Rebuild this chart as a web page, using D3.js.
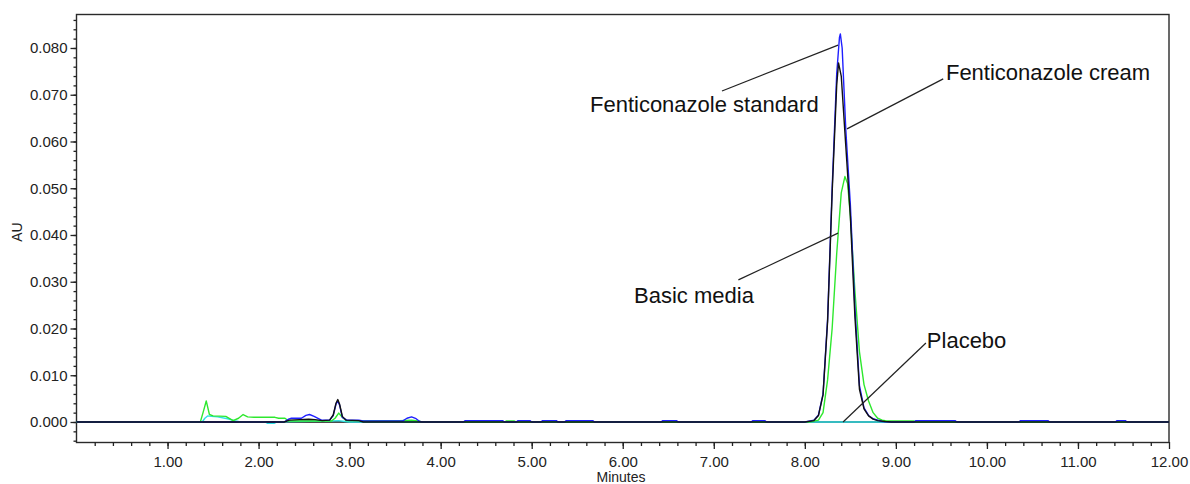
<!DOCTYPE html>
<html>
<head>
<meta charset="utf-8">
<script src="https://cdn.jsdelivr.net/npm/d3@7"></script>
<style>
  html, body { margin: 0; padding: 0; background: #fff; }
  svg { display: block; font-family: "Liberation Sans", Arial, sans-serif; }
</style>
</head>
<body>
<svg id="chart" width="1190" height="484"></svg>
<script>
// ---- Data (minutes, AU) ----
const xMajorTicks = [1, 2, 3, 4, 5, 6, 7, 8, 9, 10, 11, 12];
const yMajorTicks = [0, 0.01, 0.02, 0.03, 0.04, 0.05, 0.06, 0.07, 0.08];

// Placebo (cyan)
const placebo = [
  [0,0],[1.38,0],[1.41,0.0008],[1.44,0.0013],[1.48,0.0012],[1.55,0.0011],[1.66,0.0007],
  [1.75,0.0002],[1.80,0],[2.07,0],[2.10,-0.0003],[2.17,-0.0003],[2.20,0],[2.35,0.0001],
  [2.80,0.0002],[2.88,0.0003],[2.95,0.0001],[3.00,0],[12,0]
];

// Basic media (green)
const basicMedia = [
  [0,0],[1.36,0],[1.39,0.0020],[1.425,0.0045],[1.46,0.0016],[1.50,0.0013],[1.64,0.0012],
  [1.72,0.0003],[1.78,0.0008],[1.83,0.0016],[1.88,0.0011],[1.95,0.0010],[2.18,0.0010],
  [2.22,0.0008],[2.29,0.0008],[2.33,0.0002],[2.80,0.0002],[2.84,0.0008],[2.88,0.0019],
  [2.92,0.0010],[2.96,0.0003],[3.55,0.0003],[3.68,0.0004],[3.75,0.0002],[3.80,0],
  [4.70,0],[4.72,0.0002],[4.81,0.0002],[4.83,0],[5.10,0],[5.12,0.0001],[5.27,0.0001],[5.29,0],
  [8.05,0],[8.15,0.0004],[8.20,0.0020],[8.25,0.0090],[8.30,0.0200],[8.35,0.0360],[8.40,0.0490],
  [8.44,0.0525],[8.47,0.0510],[8.50,0.0440],[8.55,0.0280],[8.60,0.0150],[8.65,0.0080],
  [8.70,0.0045],[8.75,0.0020],[8.80,0.0008],[8.85,0.0004],[8.90,0.0002],[9.20,0.0002],[9.22,0],[12,0]
];

// Fenticonazole standard (blue)
const standard = [
  [0,0],[2.28,0],[2.33,0.0006],[2.36,0.0008],[2.47,0.0008],[2.52,0.0014],[2.56,0.0016],
  [2.61,0.0012],[2.69,0.0004],[2.78,0.0004],[2.82,0.0014],[2.85,0.0038],[2.87,0.0045],
  [2.89,0.0036],[2.92,0.0010],[2.97,0.0004],[3.10,0.0004],[3.15,0.0002],[3.58,0.0002],
  [3.63,0.0008],[3.68,0.0011],[3.73,0.0007],[3.77,0.0001],[3.80,0],
  [4.25,0],[4.27,0.0003],[4.68,0.0003],[4.70,0],[4.83,0],[4.85,0.0003],[4.98,0.0003],[5.00,0],
  [5.10,0],[5.12,0.0003],[5.27,0.0003],[5.29,0],[5.36,0],[5.38,0.0003],[5.67,0.0003],[5.69,0],
  [6.42,0],[6.44,0.0003],[6.59,0.0003],[6.61,0],[7.41,0],[7.43,0.0003],[7.56,0.0003],[7.58,0],
  [8.00,0],[8.10,0.0004],[8.15,0.0015],[8.20,0.0060],[8.25,0.0220],[8.30,0.0500],[8.35,0.0745],
  [8.38,0.0822],[8.39,0.0830],[8.41,0.0800],[8.45,0.0625],[8.50,0.0465],[8.55,0.0245],
  [8.60,0.0078],[8.65,0.0030],[8.70,0.0014],[8.75,0.0007],[8.80,0.0004],[8.85,0.0001],[8.95,0],
  [9.20,0],[9.22,0.0003],[9.65,0.0003],[9.67,0],[10.35,0],[10.37,0.0003],[10.67,0.0003],[10.69,0],
  [11.41,0],[11.43,0.0003],[11.52,0.0003],[11.54,0],[12,0]
];

// Fenticonazole cream (black)
const cream = [
  [0,0],[2.28,0],[2.34,0.0004],[2.45,0.0005],[2.55,0.0006],[2.62,0.0005],[2.70,0.0003],
  [2.78,0.0004],[2.82,0.0015],[2.85,0.0040],[2.87,0.0048],[2.89,0.0038],[2.92,0.0012],
  [2.96,0.0004],[3.10,0.0003],[3.15,0],
  [8.00,0],[8.10,0.0003],[8.15,0.0014],[8.20,0.0058],[8.25,0.0215],[8.30,0.0490],[8.35,0.0720],
  [8.37,0.0768],[8.40,0.0740],[8.45,0.0590],[8.50,0.0440],[8.55,0.0225],[8.60,0.0070],
  [8.65,0.0028],[8.70,0.0013],[8.75,0.0006],[8.80,0.0003],[8.88,0.0001],[8.95,0],[12,0]
];

const seriesNames = ["Placebo", "Basic media", "Fenticonazole standard", "Fenticonazole cream"];
const seriesData  = [placebo, basicMedia, standard, cream];
const seriesColors = ["#2fe0e6", "#2ee82e", "#1f1fff", "#111111"];

// annotation labels: leader from "at" (on the trace) to "label" end; text anchored at (tx, ty)
const annotations = [
  { text: "Fenticonazole standard", at: [8.365, 0.0806], label: [7.09, 0.0708], tx: 5.64, ty: 0.0663 },
  { text: "Fenticonazole cream",    at: [8.463, 0.0627], label: [9.52, 0.0734], tx: 9.55, ty: 0.0732 },
  { text: "Basic media",            at: [8.365, 0.0404], label: [7.27, 0.0304], tx: 6.124, ty: 0.0255 },
  { text: "Placebo",                at: [8.42, 0.0000],  label: [9.33, 0.0169], tx: 9.34, ty: 0.0158 }
];

// ---- Layout ----
const svg = d3.select("#chart");
const L = 76.5, R = 1169, T = 14, B = 442;
const x = d3.scaleLinear().domain([0, 12]).range([L, R]);
const y = d3.scaleLinear().domain([-0.00428, 0.08727]).range([B, T]);

// frame
svg.append("rect")
  .attr("x", L).attr("y", T + 0.5).attr("width", R - L).attr("height", B - T)
  .attr("fill", "none").attr("stroke", "#2a2a2a").attr("stroke-width", 1.4);

// y axis minor ticks
const yMinor = d3.range(-4, 87, 2).map(v => v / 1000);
svg.append("g").attr("transform", `translate(${L},0)`)
  .call(d3.axisLeft(y).tickValues(yMinor).tickSize(3).tickFormat(""))
  .call(g => g.select(".domain").remove())
  .call(g => g.selectAll("line").attr("stroke", "#222").attr("stroke-width", 1.3));

// y axis major ticks
svg.append("g").attr("transform", `translate(${L},0)`)
  .call(d3.axisLeft(y).tickValues(yMajorTicks).tickSize(6).tickPadding(3).tickFormat(d3.format(".3f")))
  .call(g => g.select(".domain").remove())
  .call(g => g.selectAll("line").attr("stroke", "#222").attr("stroke-width", 1.3))
  .call(g => g.selectAll("text").attr("font-size", 15).attr("fill", "#222")
    .attr("font-family", '"Liberation Sans", Arial, sans-serif'));

// x axis minor ticks
const xMinor = d3.range(1, 60).map(v => v / 5);
svg.append("g").attr("transform", `translate(0,${B})`)
  .call(d3.axisBottom(x).tickValues(xMinor).tickSize(4).tickFormat(""))
  .call(g => g.select(".domain").remove())
  .call(g => g.selectAll("line").attr("stroke", "#222").attr("stroke-width", 1.3));

// x axis major ticks
svg.append("g").attr("transform", `translate(0,${B})`)
  .call(d3.axisBottom(x).tickValues(xMajorTicks).tickSize(7).tickPadding(7).tickFormat(d3.format(".2f")))
  .call(g => g.select(".domain").remove())
  .call(g => g.selectAll("line").attr("stroke", "#222").attr("stroke-width", 1.3))
  .call(g => g.selectAll("text").attr("font-size", 15).attr("fill", "#222")
    .attr("font-family", '"Liberation Sans", Arial, sans-serif'));

// axis titles
svg.append("text")
  .attr("transform", `translate(22,232) rotate(-90)`)
  .attr("text-anchor", "middle").attr("font-size", 14).attr("fill", "#222")
  .text("AU");
svg.append("text")
  .attr("x", 621).attr("y", 482)
  .attr("text-anchor", "middle").attr("font-size", 14).attr("fill", "#222")
  .text("Minutes");

// zero reference line
svg.append("line")
  .attr("x1", x(0)).attr("x2", x(12)).attr("y1", y(0)).attr("y2", y(0))
  .attr("stroke", "#111").attr("stroke-width", 1.3);

// traces
const line = d3.line().x(d => x(d[0])).y(d => y(d[1]));
svg.append("clipPath").attr("id", "plotclip")
  .append("rect").attr("x", L).attr("y", T).attr("width", R - L).attr("height", B - T);
svg.append("g").attr("clip-path", "url(#plotclip)")
  .selectAll("path").data(seriesData).join("path")
  .attr("d", line)
  .attr("fill", "none")
  .attr("stroke", (d, i) => seriesColors[i])
  .attr("stroke-width", 1.4)
  .attr("stroke-linejoin", "round");

// annotations
const ann = svg.append("g");
annotations.forEach(a => {
  ann.append("line")
    .attr("x1", x(a.label[0])).attr("y1", y(a.label[1]))
    .attr("x2", x(a.at[0])).attr("y2", y(a.at[1]))
    .attr("stroke", "#222").attr("stroke-width", 1.2);
  ann.append("text")
    .attr("x", x(a.tx)).attr("y", y(a.ty))
    .attr("font-size", 22).attr("fill", "#111")
    .text(a.text);
});
</script>
</body>
</html>
